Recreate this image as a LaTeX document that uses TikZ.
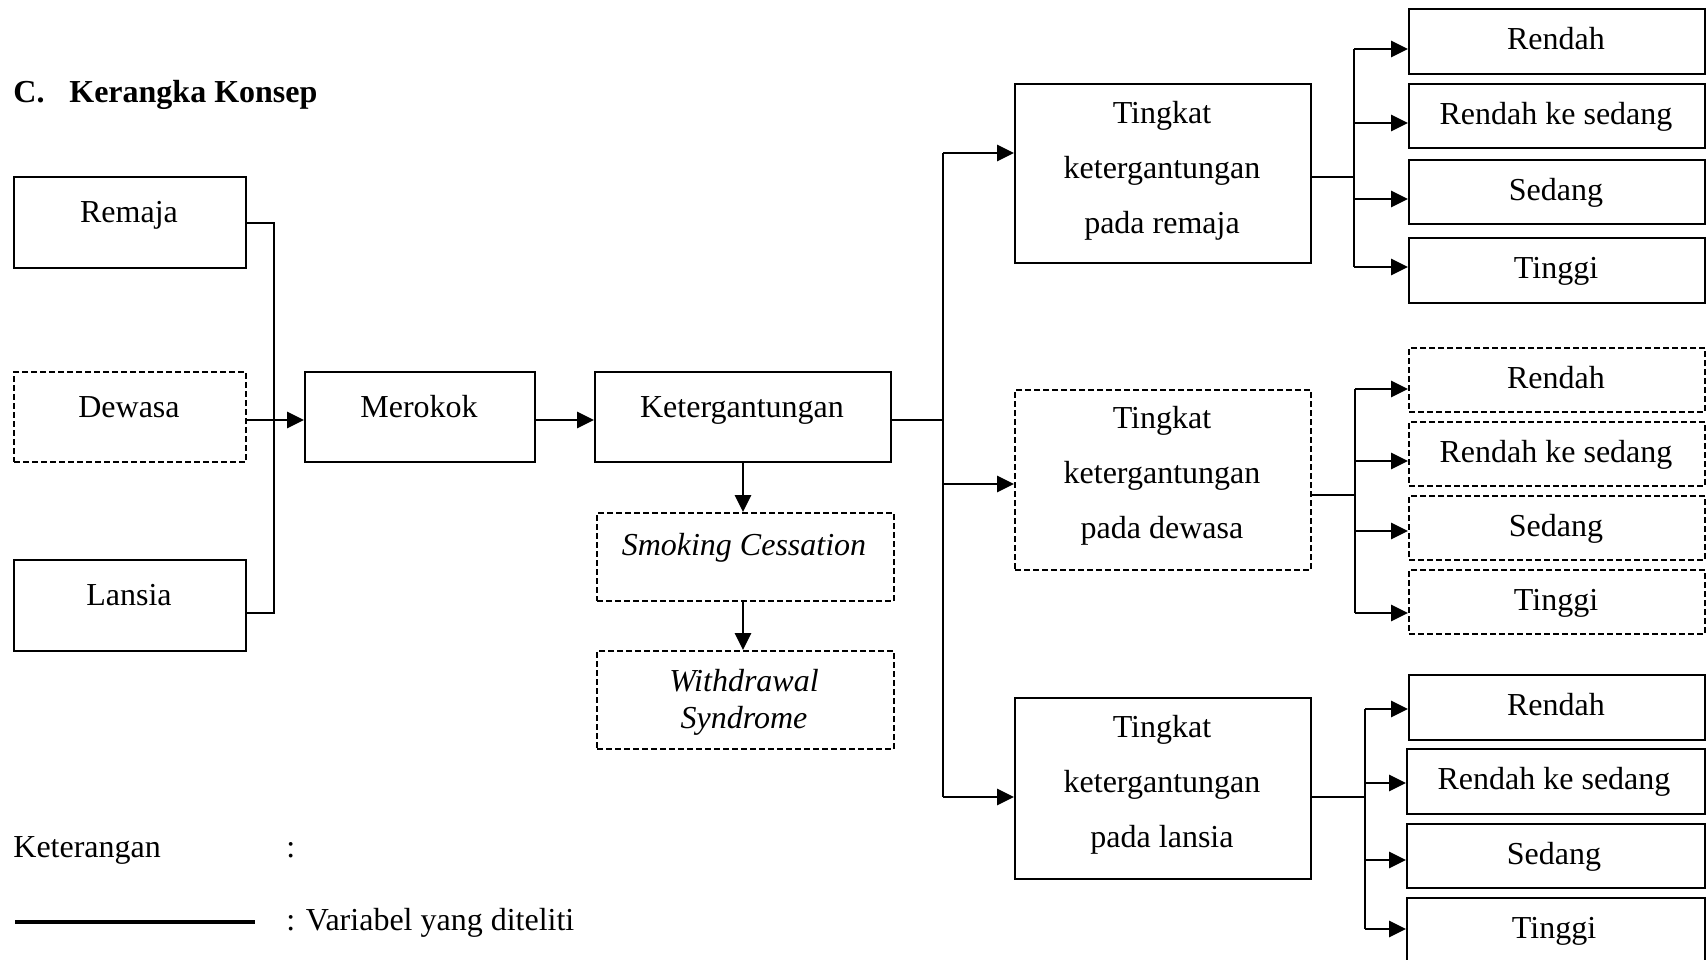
\documentclass[tikz,border=0pt]{standalone}
\usepackage{fontspec}
\setmainfont{Liberation Serif}
\usetikzlibrary{arrows.meta}
\begin{document}
\begin{tikzpicture}[x=0.5pt,y=-0.5pt,
  sz/.style 2 args={minimum width=#1*0.5pt,minimum height=#2*0.5pt},
  sbox/.style={draw,line width=1.2pt,inner sep=0,anchor=north west},
  dbox/.style={sbox,dash pattern=on 3pt off 1.5pt},
  txt/.style={inner sep=0,font=\fontsize{16pt}{19pt}\selectfont},
  bl/.style={txt,anchor=base},
  ml/.style={txt,align=center,anchor=center},
  thin/.style={line width=0.6pt},
  arr/.style={line width=1.4pt,-{Triangle[length=8.5pt,width=8pt]}},
  leg/.style={line width=2pt},
]
\clip (0,0) rectangle (1706,959);
\useasboundingbox (0,0) rectangle (1706,959);

% title
\node[txt,anchor=base west,font=\fontsize{16pt}{19pt}\selectfont\bfseries] (title) at (13,102) {\makebox[28pt][l]{C.}Kerangka Konsep};

% left column
\node[sbox,sz={232}{91}] (remaja) at (13,176) {};
\node[bl] (remajat) at (129,222) {Remaja};
\node[dbox,sz={232}{90}] (dewasa) at (13,371) {};
\node[bl] (dewasat) at (129,417) {Dewasa};
\node[sbox,sz={232}{91}] (lansia) at (13,559) {};
\node[bl] (lansiat) at (129,605) {Lansia};

\node[sbox,sz={230}{90}] (merokok) at (304,371) {};
\node[bl] (merokokt) at (419,417) {Merokok};
\node[sbox,sz={296}{90}] (keter) at (594,371) {};
\node[bl] (ketert) at (742,417) {Ketergantungan};
\node[dbox,sz={297}{88}] (smoking) at (596,512) {};
\node[bl] (smokingt) at (744,555) {\itshape Smoking Cessation};
\node[dbox,sz={297}{98}] (withdrawal) at (596,650) {};
\node[ml,font=\fontsize{16pt}{18.5pt}\selectfont\itshape] (withdrawalt) at (744,702) {Withdrawal\\Syndrome};

% Tingkat boxes
\node[sbox,sz={296}{179}] (tr) at (1014,83) {};
\node[ml,font=\fontsize{16pt}{27.5pt}\selectfont] (trt) at (1162,171) {Tingkat\\ketergantungan\\pada remaja};
\node[dbox,sz={296}{180}] (td) at (1014,389) {};
\node[ml,font=\fontsize{16pt}{27.5pt}\selectfont] (tdt) at (1162,476) {Tingkat\\ketergantungan\\pada dewasa};
\node[sbox,sz={296}{181}] (tl) at (1014,697) {};
\node[ml,font=\fontsize{16pt}{27.5pt}\selectfont] (tlt) at (1162,785) {Tingkat\\ketergantungan\\pada lansia};

% group 1
\node[sbox,sz={296}{65}] (a1) at (1408,8) {};
\node[bl] (a1t) at (1556,49) {Rendah};
\node[sbox,sz={296}{64}] (a2) at (1408,83) {};
\node[bl] (a2t) at (1556,124) {Rendah ke sedang};
\node[sbox,sz={296}{64}] (a3) at (1408,159) {};
\node[bl] (a3t) at (1556,200) {Sedang};
\node[sbox,sz={296}{65}] (a4) at (1408,237) {};
\node[bl] (a4t) at (1556,278) {Tinggi};

% group 2
\node[dbox,sz={296}{64}] (b1) at (1408,347) {};
\node[bl] (b1t) at (1556,388) {Rendah};
\node[dbox,sz={296}{64}] (b2) at (1408,421) {};
\node[bl] (b2t) at (1556,462) {Rendah ke sedang};
\node[dbox,sz={296}{64}] (b3) at (1408,495) {};
\node[bl] (b3t) at (1556,536) {Sedang};
\node[dbox,sz={296}{64}] (b4) at (1408,569) {};
\node[bl] (b4t) at (1556,610) {Tinggi};

% group 3
\node[sbox,sz={296}{65}] (c1) at (1408,674) {};
\node[bl] (c1t) at (1556,715) {Rendah};
\node[sbox,sz={298}{65}] (c2) at (1406,748) {};
\node[bl] (c2t) at (1554,789) {Rendah ke sedang};
\node[sbox,sz={298}{64}] (c3) at (1406,823) {};
\node[bl] (c3t) at (1554,864) {Sedang};
\node[sbox,sz={298}{80}] (c4) at (1406,897) {};
\node[bl] (c4t) at (1554,938) {Tinggi};

% left bracket
\coordinate (jl1) at (274,223);
\coordinate (jl2) at (274,613);
\coordinate (jm) at (274,420);
\draw[thin] (remaja.east |- jl1) -- (jl1) -- (jl2) -- (lansia.east |- jl2);
\draw[arr] (dewasa.east |- jm) -- (merokok.west |- jm);
\draw[arr] (merokok.east |- jm) -- (keter.west |- jm);
\draw[arr] (keter.south -| 743,0) -- (smoking.north -| 743,0);
\draw[arr] (smoking.south -| 743,0) -- (withdrawal.north -| 743,0);

% middle bracket
\coordinate (k0) at (943,420);
\coordinate (k1) at (943,153);
\coordinate (k2) at (943,484);
\coordinate (k3) at (943,797);
\draw[thin] (keter.east |- k0) -- (k0);
\draw[thin] (k1) -- (k3);
\draw[arr] (k1) -- (k1 -| tr.west);
\draw[arr] (k2) -- (k2 -| td.west);
\draw[arr] (k3) -- (k3 -| tl.west);

% right bracket 1
\coordinate (p0) at (1354,177);
\coordinate (p1) at (1354,49);
\coordinate (p2) at (1354,123);
\coordinate (p3) at (1354,199);
\coordinate (p4) at (1354,267);
\draw[thin] (tr.east |- p0) -- (p0);
\draw[thin] (p1) -- (p4);
\draw[arr] (p1) -- (p1 -| a1.west);
\draw[arr] (p2) -- (p2 -| a2.west);
\draw[arr] (p3) -- (p3 -| a3.west);
\draw[arr] (p4) -- (p4 -| a4.west);

% right bracket 2
\coordinate (q0) at (1355,495);
\coordinate (q1) at (1355,389);
\coordinate (q2) at (1355,461);
\coordinate (q3) at (1355,531);
\coordinate (q4) at (1355,613);
\draw[thin] (td.east |- q0) -- (q0);
\draw[thin] (q1) -- (q4);
\draw[arr] (q1) -- (q1 -| b1.west);
\draw[arr] (q2) -- (q2 -| b2.west);
\draw[arr] (q3) -- (q3 -| b3.west);
\draw[arr] (q4) -- (q4 -| b4.west);

% right bracket 3
\coordinate (s0) at (1365,797);
\coordinate (s1) at (1365,709);
\coordinate (s2) at (1365,783);
\coordinate (s3) at (1365,860);
\coordinate (s4) at (1365,929);
\draw[thin] (tl.east |- s0) -- (s0);
\draw[thin] (s1) -- (s4);
\draw[arr] (s1) -- (s1 -| c1.west);
\draw[arr] (s2) -- (s2 -| c2.west);
\draw[arr] (s3) -- (s3 -| c3.west);
\draw[arr] (s4) -- (s4 -| c4.west);

% legend
\node[txt,anchor=base west] (ket) at (13,857) {Keterangan};
\node[txt,anchor=base west] (ketc) at (286,857) {:};
\coordinate (la) at (15,922);
\coordinate (lb) at (255,922);
\draw[leg] (la) -- (lb);
\node[txt,anchor=base west] (var) at (286,930) {: Variabel yang diteliti};
\end{tikzpicture}
\end{document}
